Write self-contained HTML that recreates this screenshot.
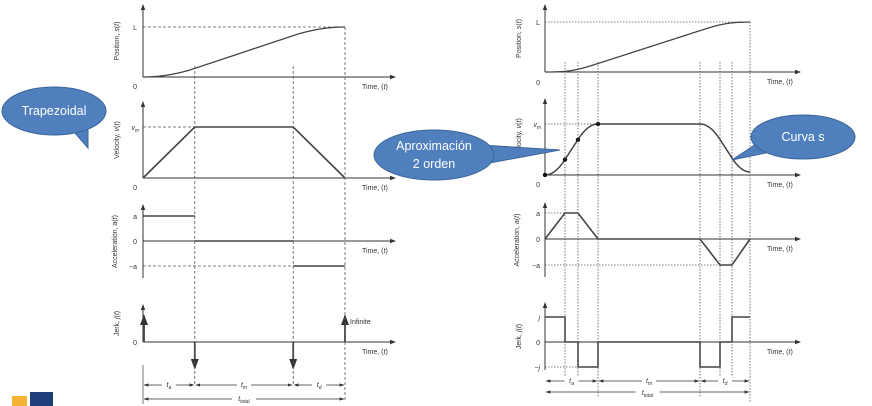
<!DOCTYPE html>
<html><head><meta charset="utf-8">
<style>
html,body{margin:0;padding:0;background:#fff;}
svg{display:block;font-family:"Liberation Sans",sans-serif;}
</style></head>
<body>
<svg id="c" width="872" height="406" viewBox="0 0 872 406" xmlns="http://www.w3.org/2000/svg">
<defs>
<marker id="ah" markerWidth="6" markerHeight="6" refX="5" refY="3" orient="auto"><path d="M0,0.8 L6,3 L0,5.2 Z" fill="#333"/></marker>
<marker id="dh" markerWidth="6" markerHeight="6" refX="5.5" refY="3" orient="auto"><path d="M0,1 L6,3 L0,5 Z" fill="#333"/></marker>
<marker id="ds" markerWidth="6" markerHeight="6" refX="0.5" refY="3" orient="auto"><path d="M6,1 L0,3 L6,5 Z" fill="#333"/></marker>
</defs>
</svg>
<script>
// ---- data ----
const leftTimes = [0, 1, 2.9, 3.9];          // phase boundaries (trapezoidal)
const leftVel = [0, 1, 1, 0];                 // velocity at boundaries (normalized)
const leftAcc = [1, 0, -1];                   // acceleration per phase
const leftJerk = [1, -1, -1, 1];              // impulse signs
const rightTimes = [0, 1, 1.65, 2.65, 7.75, 8.75, 9.35, 10.25];
const rightAcc = [0, 1, 1, 0, 0, -1, -1, 0];  // acceleration at boundaries
const rightJerk = [1, 0, -1, 0, -1, 0, 1];    // jerk per phase
const dotTimes = [0, 1, 1.65, 2.65];

const svg = document.getElementById('c');
const NS = 'http://www.w3.org/2000/svg';
function mk(tag, attrs, name, parent) {
  const el = document.createElementNS(NS, tag);
  for (const k in attrs) el.setAttribute(k, attrs[k]);
  
  
  (parent || svg).appendChild(el);
  return el;
}
function txt(x, y, s, name, opts) {
  opts = opts || {};
  const t = mk('text', {x: x, y: y, 'font-size': opts.size || 7, fill: opts.fill || '#333', 'text-anchor': opts.anchor || 'start'}, name);
  if (opts.rot) t.setAttribute('transform', 'rotate(-90 ' + x + ' ' + y + ')');
  t.innerHTML = s;
  return t;
}
function ln(x1, y1, x2, y2, name, st) {
  st = st || {};
  const l = mk('line', {x1: x1, y1: y1, x2: x2, y2: y2, stroke: st.c || '#333', 'stroke-width': st.w || 1}, name);
  if (st.dash) l.setAttribute('stroke-dasharray', st.dash);
  if (st.m) l.setAttribute('marker-end', 'url(#' + st.m + ')');
  if (st.ms) l.setAttribute('marker-start', 'url(#' + st.ms + ')');
  return l;
}
function pl(pts, name, w) {
  return mk('polyline', {points: pts.map(p => p[0].toFixed(1) + ',' + p[1].toFixed(1)).join(' '), fill: 'none', stroke: '#444', 'stroke-width': w || 1.6}, name);
}
function axes(x0, yTop, yBase, yBot, xEnd, label, lx, prefix) {
  ln(x0, yBot, x0, yTop, prefix + '-y-axis', {m: 'ah'});
  ln(x0, yBase, xEnd, yBase, prefix + '-x-axis', {m: 'ah'});
  txt(xEnd - 33, yBase + 12, 'Time, (<tspan font-style="italic">t</tspan>)', prefix + '-x-axis-title');
  txt(lx, (yTop + yBot) / 2, label, prefix + '-y-axis-title', {rot: true, anchor: 'middle'});
}

// ================= LEFT (trapezoidal) =================
(function () {
  const X0 = 143, XS = (345 - 143) / leftTimes[3];
  const X = t => X0 + t * XS;
  const tEnd = leftTimes[3];
  function vel(t) {
    for (let i = 0; i < 3; i++) {
      if (t <= leftTimes[i + 1]) return leftVel[i] + (leftVel[i + 1] - leftVel[i]) * (t - leftTimes[i]) / (leftTimes[i + 1] - leftTimes[i]);
    }
    return 0;
  }
  const N = 200; let s = 0; const pos = [[0, 0]];
  for (let i = 1; i <= N; i++) { const t = tEnd * i / N; s += vel(t - tEnd / N / 2) * tEnd / N; pos.push([t, s]); }
  const L = s;
  const pB = 77, pL = 27;
  axes(X0, 5, pB, pB, 395, 'Position, <tspan font-style="italic">s</tspan>(<tspan font-style="italic">t</tspan>)', 119, 'left-position');
  txt(137, 80 + 9, '0', 'left-position-zero', {anchor: 'end'});
  txt(137, pL + 3, 'L', 'left-position-L', {anchor: 'end'});
  ln(X0, pL, X(tEnd), pL, 'left-L-guide', {dash: '3,2', c: '#555', w: 0.8});
  pl(pos.map(p => [X(p[0]), pB - (pB - pL) * p[1] / L]), 'left-position-curve', 1.3);
  const vB = 178, vM = 127;
  axes(X0, 102, vB, vB, 395, 'Velocity, <tspan font-style="italic">v</tspan>(<tspan font-style="italic">t</tspan>)', 119, 'left-velocity');
  txt(137, 190, '0', 'left-velocity-zero', {anchor: 'end'});
  txt(139, vM + 3, '<tspan font-style="italic">v<tspan font-size="5" dy="2">m</tspan></tspan>', 'left-velocity-vm', {anchor: 'end'});
  ln(X0, vM, X(leftTimes[1]), vM, 'left-vm-guide', {dash: '3,2', c: '#555', w: 0.8});
  pl(leftTimes.map((t, i) => [X(t), vB - (vB - vM) * leftVel[i]]), 'left-velocity-curve', 1.6);
  const a0 = 241, aU = 25;
  axes(X0, 205, a0, 278, 395, 'Acceleration, <tspan font-style="italic">a</tspan>(<tspan font-style="italic">t</tspan>)', 117, 'left-acceleration');
  txt(137, a0 + 3, '0', 'left-acc-zero', {anchor: 'end'});
  txt(137, a0 - aU + 3, 'a', 'left-acc-a', {anchor: 'end'});
  txt(137, a0 + aU + 3, '−a', 'left-acc-minus-a', {anchor: 'end'});
  ln(X0, a0 + aU, X(leftTimes[2]), a0 + aU, 'left-minus-a-guide', {dash: '3,2', c: '#555', w: 0.8});
  for (let i = 0; i < 3; i++) pl([[X(leftTimes[i]), a0 - aU * leftAcc[i]], [X(leftTimes[i + 1]), a0 - aU * leftAcc[i]]], 'left-acc-segment-' + i, 1.6);
  const j0 = 342;
  axes(X0, 305, j0, 342, 395, 'Jerk, <tspan font-style="italic">j</tspan>(<tspan font-style="italic">t</tspan>)', 119, 'left-jerk');
  txt(137, j0 + 3, '0', 'left-jerk-zero', {anchor: 'end'});
  leftJerk.forEach((j, i) => ln(X(leftTimes[i]) + (i === 0 ? 1 : 0), j0, X(leftTimes[i]) + (i === 0 ? 1 : 0), j0 - 26 * j, 'left-jerk-impulse-' + i, {w: 1.8, m: 'ah', c: '#444'}));
  txt(X(tEnd) + 5, 324, 'Infinite', 'left-jerk-infinite-label');
  [1, 2].forEach(i => ln(X(leftTimes[i]), 66, X(leftTimes[i]), 385, 'left-phase-guide-' + i, {dash: '3,2', c: '#555', w: 0.8}));
  ln(X(tEnd), pL, X(tEnd), 400, 'left-end-guide', {dash: '3,2', c: '#555', w: 0.8});
  ln(X0, 365, X0, 404, 'left-start-guide', {c: '#555', w: 0.8});
  const dimLabels = ['<tspan font-style="italic">t<tspan font-size="5" dy="2">a</tspan></tspan>', '<tspan font-style="italic">t<tspan font-size="5" dy="2">m</tspan></tspan>', '<tspan font-style="italic">t<tspan font-size="5" dy="2">d</tspan></tspan>'];
  for (let i = 0; i < 3; i++) {
    ln(X(leftTimes[i]) + 1, 385, X(leftTimes[i + 1]) - 1, 385, 'left-dim-' + i, {w: 0.8, m: 'dh', ms: 'ds'});
    mk('rect', {x: (X(leftTimes[i]) + X(leftTimes[i + 1])) / 2 - 7, y: 380, width: 14, height: 9, fill: '#fff'}, 'left-dim-label-bg-' + i);
    txt((X(leftTimes[i]) + X(leftTimes[i + 1])) / 2, 387, dimLabels[i], 'left-dim-label-' + i, {anchor: 'middle'});
  }
  ln(X0 + 1, 399, X(tEnd) - 1, 399, 'left-dim-total', {w: 0.8, m: 'dh', ms: 'ds'});
  mk('rect', {x: (X0 + X(tEnd)) / 2 - 12, y: 393, width: 24, height: 12, fill: '#fff'}, 'left-total-bg');
  txt((X0 + X(tEnd)) / 2, 401, '<tspan font-style="italic">t<tspan font-size="5" dy="2">total</tspan></tspan>', 'left-dim-total-label', {anchor: 'middle'});
})();

// ================= RIGHT (S-curve) =================
(function () {
  const X0 = 545, tEnd = rightTimes[rightTimes.length - 1], XS = (750 - 545) / tEnd;
  const X = t => X0 + t * XS;
  function acc(t) {
    for (let i = 0; i < rightTimes.length - 1; i++) {
      if (t <= rightTimes[i + 1]) return rightAcc[i] + (rightAcc[i + 1] - rightAcc[i]) * (t - rightTimes[i]) / (rightTimes[i + 1] - rightTimes[i]);
    }
    return 0;
  }
  const N = 400, dt = tEnd / N; const vs = [[0, 0]]; let v = 0;
  for (let i = 1; i <= N; i++) { v += acc((i - 0.5) * dt) * dt; vs.push([i * dt, v]); }
  const vmax = Math.max(...vs.map(p => p[1]));
  const vn = vs.map(p => [p[0], Math.max(0, p[1] / vmax)]);
  const vAt = t => vn[Math.min(N, Math.round(t / dt))][1];
  let s = 0; const ps = [[0, 0]];
  for (let i = 1; i <= N; i++) { s += (vn[i][1] + vn[i - 1][1]) / 2 * dt; ps.push([i * dt, s]); }
  const L = s;
  const dot = {c: '#555', w: 0.8, dash: '1.5,1.5'};
  const pB = 72, pL = 22;
  axes(X0, 5, pB, pB, 800, 'Position, <tspan font-style="italic">s</tspan>(<tspan font-style="italic">t</tspan>)', 521, 'right-position');
  txt(540, 85, '0', 'right-position-zero', {anchor: 'end'});
  txt(540, pL + 3, 'L', 'right-position-L', {anchor: 'end'});
  ln(X0, pL, X(tEnd), pL, 'right-L-guide', dot);
  pl(ps.map(p => [X(p[0]), pB - (pB - pL) * p[1] / L]), 'right-position-curve', 1.3);
  const vB = 175, vM = 124;
  axes(X0, 99, vB, vB, 800, 'Velocity, <tspan font-style="italic">v</tspan>(<tspan font-style="italic">t</tspan>)', 521, 'right-velocity');
  txt(540, 187, '0', 'right-velocity-zero', {anchor: 'end'});
  txt(541, vM + 3, '<tspan font-style="italic">v<tspan font-size="5" dy="2">m</tspan></tspan>', 'right-velocity-vm', {anchor: 'end'});
  ln(X0, vM, X(rightTimes[3]), vM, 'right-vm-guide', dot);
  pl(vn.map(p => [X(p[0]), vB - (vB - vM) * p[1]]), 'right-velocity-curve', 1.5);
  dotTimes.forEach((t, i) => mk('circle', {cx: X(t), cy: vB - (vB - vM) * vAt(t), r: 2.2, fill: '#111'}, 'right-velocity-dot-' + i));
  const a0 = 239, aU = 26;
  axes(X0, 203, a0, 277, 800, 'Acceleration, <tspan font-style="italic">a</tspan>(<tspan font-style="italic">t</tspan>)', 519, 'right-acceleration');
  txt(540, a0 + 3, '0', 'right-acc-zero', {anchor: 'end'});
  txt(540, a0 - aU + 3, 'a', 'right-acc-a', {anchor: 'end'});
  txt(540, a0 + aU + 3, '−a', 'right-acc-minus-a', {anchor: 'end'});
  ln(X0, a0 - aU, X(rightTimes[1]), a0 - aU, 'right-a-guide', dot);
  ln(X0, a0 + aU, X(rightTimes[5]), a0 + aU, 'right-minus-a-guide', dot);
  pl(rightTimes.map((t, i) => [X(t), a0 - aU * rightAcc[i]]), 'right-acc-curve', 1.6);
  const j0 = 342, jU = 25;
  axes(X0, 303, j0, 370, 800, 'Jerk, <tspan font-style="italic">j</tspan>(<tspan font-style="italic">t</tspan>)', 521, 'right-jerk');
  txt(540, j0 + 3, '0', 'right-jerk-zero', {anchor: 'end'});
  txt(540, j0 - jU + 3, '<tspan font-style="italic">j</tspan>', 'right-jerk-j', {anchor: 'end'});
  txt(540, j0 + jU + 3, '−<tspan font-style="italic">j</tspan>', 'right-jerk-minus-j', {anchor: 'end'});
  ln(X0, j0 + jU, X(rightTimes[2]), j0 + jU, 'right-minus-j-guide', dot);
  const jp = [];
  rightJerk.forEach((j, i) => { jp.push([X(rightTimes[i]), j0 - jU * j]); jp.push([X(rightTimes[i + 1]), j0 - jU * j]); });
  pl(jp, 'right-jerk-curve', 1.6);
  [1, 2, 3, 4, 5, 6].forEach(i => ln(X(rightTimes[i]), 62, X(rightTimes[i]), i === 3 || i === 4 ? 398 : 378, 'right-phase-guide-' + i, dot));
  ln(X(tEnd), pL, X(tEnd), 402, 'right-end-guide', dot);
  const segs = [[0, 3], [3, 4], [4, 7]];
  const labs = ['<tspan font-style="italic">t<tspan font-size="5" dy="2">a</tspan></tspan>', '<tspan font-style="italic">t<tspan font-size="5" dy="2">m</tspan></tspan>', '<tspan font-style="italic">t<tspan font-size="5" dy="2">d</tspan></tspan>'];
  segs.forEach((sg, i) => {
    const a = X(rightTimes[sg[0]]), b = X(rightTimes[sg[1]]);
    ln(a + 1, 381, b - 1, 381, 'right-dim-' + i, {w: 0.8, m: 'dh', ms: 'ds'});
    mk('rect', {x: (a + b) / 2 - 7, y: 376, width: 14, height: 9, fill: '#fff'}, 'right-dim-label-bg-' + i);
    txt((a + b) / 2, 383, labs[i], 'right-dim-label-' + i, {anchor: 'middle'});
  });
  ln(X0 + 1, 392, X(tEnd) - 1, 392, 'right-dim-total', {w: 0.8, m: 'dh', ms: 'ds'});
  mk('rect', {x: (X0 + X(tEnd)) / 2 - 12, y: 387, width: 24, height: 12, fill: '#fff'}, 'right-total-bg');
  txt((X0 + X(tEnd)) / 2, 395, '<tspan font-style="italic">t<tspan font-size="5" dy="2">total</tspan></tspan>', 'right-dim-total-label', {anchor: 'middle'});
})();

// ================= callouts =================
function callout(cx, cy, rx, ry, tail, lines, name) {
  const g = mk('g', {}, name);
  mk('path', {d: tail, fill: '#4f7fbd', stroke: '#3b6499', 'stroke-width': 1}, name + '-tail', g);
  mk('ellipse', {cx: cx, cy: cy, rx: rx, ry: ry, fill: '#4f7fbd', stroke: '#3b6499', 'stroke-width': 1}, name + '-bubble', g);
  lines.forEach((s, i) => {
    const t = mk('text', {x: cx, y: cy + 4 + (i - (lines.length - 1) / 2) * 18, 'font-size': 12.5, fill: '#fff', 'text-anchor': 'middle'}, name + '-text-' + i, g);
    t.textContent = s;
  });
}
callout(54, 111, 52, 24, 'M68,125 L88,148 L88,124 Z', ['Trapezoidal'], 'trapezoidal-callout');
callout(434, 155, 60, 25, 'M480,145 L560,150 L484,164 Z', ['Aproximación', '2 orden'], 'second-order-callout');
callout(803, 137, 52, 22, 'M762,140 L732,160 L770,152 Z', ['Curva s'], 'curva-s-callout');

mk('rect', {x: 12, y: 396, width: 15, height: 10, fill: '#f5b335'}, 'logo-orange-block');
mk('rect', {x: 30, y: 392, width: 23, height: 14, fill: '#1e3f7a'}, 'logo-blue-block');
</script>
</body></html>
